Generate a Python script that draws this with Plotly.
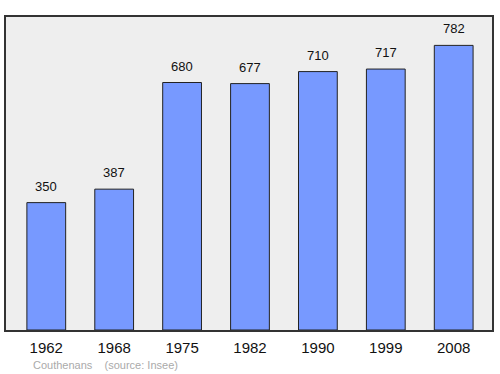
import plotly.graph_objects as go

years = ["1962", "1968", "1975", "1982", "1990", "1999", "2008"]
population = [350, 387, 680, 677, 710, 717, 782]
positions = list(range(len(years)))

fig = go.Figure()
fig.add_trace(go.Bar(
    x=positions, y=population, width=0.571,
    marker=dict(color="#7799ff", line=dict(color="#222222", width=1)),
    hoverinfo="skip",
))
for xi, v in zip(positions, population):
    fig.add_annotation(x=xi, y=v, text=str(v), showarrow=False,
                       yanchor="bottom", yshift=7,
                       font=dict(family="Liberation Sans, Arial", size=13, color="#111111"))

fig.add_annotation(xref="paper", yref="paper", x=0.052, y=-0.112, xanchor="left", yanchor="middle",
                   text="Couthenans&nbsp;&nbsp;&nbsp;&nbsp;(source: Insee)", showarrow=False,
                   font=dict(family="Liberation Sans, Arial", size=11, color="#aaaaaa"))

fig.update_layout(
    width=500, height=374,
    margin=dict(l=6, r=6, t=17, b=44),
    paper_bgcolor="white", plot_bgcolor="#eeeeee",
    showlegend=False,
    xaxis=dict(range=[-0.593, 6.564], tickvals=positions, ticktext=years,
               showgrid=False, zeroline=False, showline=True, mirror=True,
               linecolor="#333333", linewidth=1.5, ticks="", ticklabelstandoff=3,
               tickfont=dict(family="Liberation Sans, Arial", size=15, color="#111111")),
    yaxis=dict(range=[0, 860], showticklabels=False, showgrid=False, zeroline=False,
               showline=True, mirror=True, linecolor="#333333", linewidth=1.5, ticks=""),
)
fig.write_html("out.html")
